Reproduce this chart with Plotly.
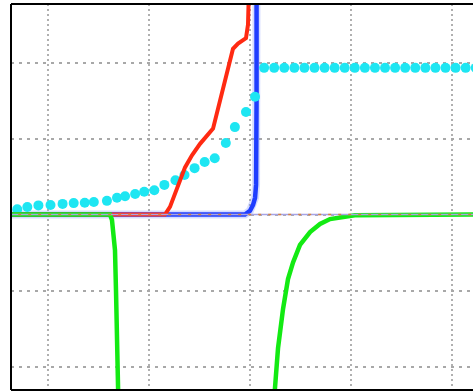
import plotly.graph_objects as go

# Series values (data units: one grid cell = 1 unit on each axis)
cyan_x = [-2.31, -2.21, -2.10, -1.98, -1.86, -1.75, -1.64, -1.55, -1.42, -1.32,
          -1.24, -1.14, -1.05, -0.95, -0.85, -0.74, -0.65, -0.55, -0.45, -0.35,
          -0.24, -0.15, -0.04, 0.05,
          0.14, 0.24, 0.34, 0.44, 0.54, 0.64, 0.74, 0.84, 0.94, 1.04, 1.14,
          1.24, 1.34, 1.44, 1.54, 1.64, 1.74, 1.84, 1.94, 2.04, 2.14, 2.24]
cyan_y = [0.07, 0.10, 0.12, 0.125, 0.14, 0.15, 0.155, 0.165, 0.18, 0.22,
          0.24, 0.27, 0.30, 0.32, 0.39, 0.45, 0.52, 0.61, 0.69, 0.74,
          0.94, 1.15, 1.35, 1.55,
          1.93, 1.93, 1.93, 1.93, 1.93, 1.93, 1.93, 1.93, 1.93, 1.93, 1.93,
          1.93, 1.93, 1.93, 1.93, 1.93, 1.93, 1.93, 1.93, 1.93, 1.93, 1.93]

red_x = [-2.40, -0.844, -0.794, -0.744, -0.695, -0.645, -0.576, -0.496, -0.367,
         -0.298, -0.228, -0.169, -0.119, -0.040, -0.020, 0.0]
red_y = [0.0, 0.0, 0.10, 0.28, 0.45, 0.62, 0.78, 0.93, 1.13,
         1.50, 1.86, 2.18, 2.25, 2.32, 2.50, 3.50]

blue_x = [-2.40, -0.05, 0.0, 0.03, 0.05, 0.06, 0.065, 0.065]
blue_y = [0.0, 0.0, 0.05, 0.125, 0.22, 0.39, 1.50, 3.50]

green_left_x = [-2.40, -1.39, -1.37, -1.35, -1.34, -1.33, -1.32, -1.305, -1.29]
green_left_y = [0.0, 0.0, -0.07, -0.27, -0.47, -1.00, -1.66, -2.40, -3.50]

green_right_x = [0.218, 0.245, 0.278, 0.328, 0.377, 0.427, 0.496, 0.596, 0.695,
                 0.794, 0.923, 1.04, 2.40]
green_right_y = [-2.80, -2.30, -1.76, -1.24, -0.85, -0.63, -0.40, -0.23, -0.125,
                 -0.06, -0.03, -0.01, 0.0]

axis_x = [-2.40, 2.40]
axis_y = [0.0, 0.0]

grid_vals = [-2, -1, 0, 1, 2]

fig = go.Figure()

fig.add_trace(go.Scatter(x=blue_x, y=blue_y, mode="lines",
                         line=dict(color="rgba(120,140,255,0.3)", width=8),
                         hoverinfo="skip"))
fig.add_trace(go.Scatter(x=blue_x, y=blue_y, mode="lines",
                         line=dict(color="#1f3dff", width=4.5)))
fig.add_trace(go.Scatter(x=cyan_x, y=cyan_y, mode="markers",
                         marker=dict(color="#1ee6f2", size=10, line=dict(width=0))))
fig.add_trace(go.Scatter(x=red_x, y=red_y, mode="lines",
                         line=dict(color="#ff2a12", width=4)))
fig.add_trace(go.Scatter(x=green_left_x, y=green_left_y, mode="lines",
                         line=dict(color="#13ea13", width=4.5)))
fig.add_trace(go.Scatter(x=green_right_x, y=green_right_y, mode="lines",
                         line=dict(color="#13ea13", width=4.5)))
# thin multicoloured baseline along y = 0
fig.add_trace(go.Scatter(x=axis_x, y=axis_y, mode="lines",
                         line=dict(color="#a7a4e6", width=1.5)))
fig.add_trace(go.Scatter(x=axis_x, y=axis_y, mode="lines",
                         line=dict(color="#d9843c", width=1.5, dash="3px,7px")))

fig.update_layout(
    width=473, height=392,
    margin=dict(l=11, r=0, t=4, b=2),
    paper_bgcolor="white", plot_bgcolor="white",
    showlegend=False,
    xaxis=dict(range=[-2.372, 2.213], tickvals=grid_vals, showticklabels=False,
               ticks="", showgrid=True, gridcolor="#b0b0b0", gridwidth=2,
               griddash="2px,3px", zeroline=False, showline=False, fixedrange=True),
    yaxis=dict(range=[-2.309, 2.770], tickvals=grid_vals, showticklabels=False,
               ticks="", showgrid=True, gridcolor="#a8a8a8", gridwidth=2,
               griddash="3px,5px", zeroline=False, showline=False, fixedrange=True),
    shapes=[
        dict(type="line", xref="paper", yref="paper", x0=0, x1=0, y0=0, y1=1,
             line=dict(color="black", width=2)),
        dict(type="line", xref="paper", yref="paper", x0=0, x1=1.02, y0=1, y1=1,
             line=dict(color="black", width=2)),
        dict(type="line", xref="paper", yref="paper", x0=0, x1=1.02, y0=0, y1=0,
             line=dict(color="black", width=2)),
    ],
)

fig.write_html("out.html", config={"displayModeBar": False})
